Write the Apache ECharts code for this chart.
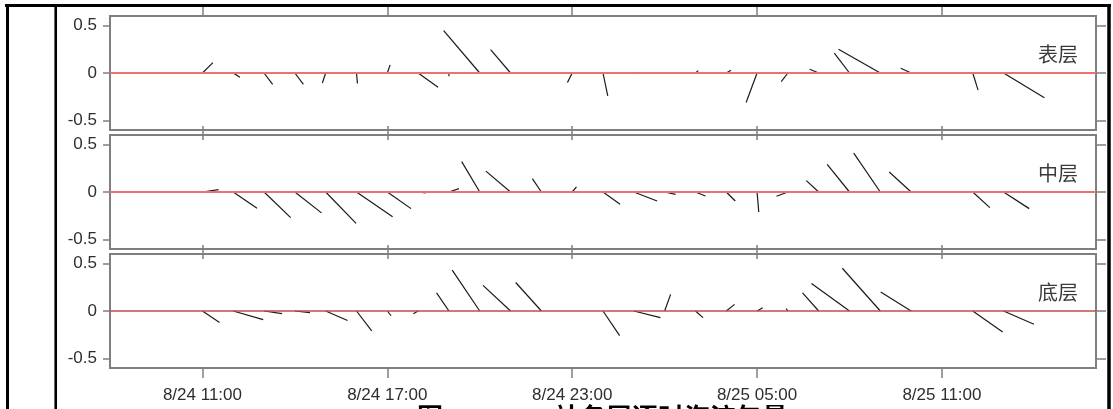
<!DOCTYPE html>
<html>
<head>
<meta charset="utf-8">
<style>
  html, body { margin: 0; padding: 0; background: #fff; }
  #chart { width: 1113px; height: 409px; }
</style>
<script src="https://cdn.jsdelivr.net/npm/echarts@6/dist/echarts.min.js"></script>
</head>
<body>
<div id="chart"></div>
<script>
// ---------------- DATA ----------------
// hour of each stick, counted from 8/24 00:00 (11 = 8/24 11:00, 37 = 8/25 13:00)
const hours = [11, 12, 13, 14, 15, 16, 17, 18, 19, 20, 21, 22, 23, 24, 25, 26, 27, 28, 29, 30, 31, 32, 33, 34, 35, 36, 37];

// 表层 (surface): east (u) and north (v) components, m/s
const uSurface = [0.11, 0.07, 0.09, 0.09, -0.035, 0.01, 0.03, 0.21, 0.0, -0.38, -0.21, -0.035, -0.05, 0.05, 0.01, 0.03, 0.03, 0.05, -0.115, -0.07, -0.095, -0.16, -0.44, -0.11, 0.0, 0.056, 0.43];
const vSurface = [0.11, -0.045, -0.12, -0.12, -0.105, -0.11, 0.085, -0.15, -0.035, 0.445, 0.245, 0.005, -0.1, -0.24, -0.01, -0.005, 0.025, 0.03, -0.31, -0.09, 0.04, 0.21, 0.25, 0.05, 0.0, -0.18, -0.26];

// 中层 (middle)
const uMiddle = [0.17, 0.25, 0.28, 0.28, 0.32, 0.38, 0.25, 0.08, 0.105, -0.19, -0.26, -0.095, 0.045, 0.18, 0.245, 0.115, 0.105, 0.095, 0.018, -0.12, -0.13, -0.235, -0.28, -0.23, 0.0, 0.18, 0.27];
const vMiddle = [0.025, -0.17, -0.27, -0.22, -0.33, -0.26, -0.175, -0.01, 0.035, 0.32, 0.22, 0.14, 0.053, -0.13, -0.095, -0.025, -0.042, -0.095, -0.21, -0.045, 0.12, 0.29, 0.41, 0.21, 0.0, -0.165, -0.175];

// 底层 (bottom)
const uBottom = [0.18, 0.315, 0.19, 0.16, 0.23, 0.16, 0.04, -0.05, -0.13, -0.29, -0.29, -0.27, 0.0, 0.175, 0.28, 0.063, 0.08, 0.088, 0.06, -0.018, -0.17, -0.4, -0.4, -0.32, 0.0, 0.315, 0.32];
const vBottom = [-0.12, -0.09, -0.028, -0.018, -0.1, -0.21, -0.05, -0.03, 0.19, 0.43, 0.27, 0.30, 0.0, -0.26, -0.07, 0.175, -0.07, 0.07, 0.035, 0.025, 0.19, 0.29, 0.45, 0.2, 0.0, -0.22, -0.14];

const layerNames = ['表层', '中层', '底层'];

// axis ticks / labels
const X_MIN = 8, X_MAX = 40;            // 8/24 08:00 .. 8/25 16:00
const Y_MIN = -0.6, Y_MAX = 0.6;
const xTickHours = [11, 17, 23, 29, 35];
const xTickLabels = ['8/24 11:00', '8/24 17:00', '8/24 23:00', '8/25 05:00', '8/25 11:00'];
const yTickValues = [-0.5, 0, 0.5];
const yTickLabels = ['-0.5', '0', '0.5'];
const captionFig = '图';
const captionText = '站各层逐时海流矢量';

// ---------------- LAYOUT ----------------
const PANEL_LEFT = 110, PANEL_WIDTH = 986, PANEL_H = 114;
const PANEL_TOPS = [16, 135, 254];
const AXIS_GRAY = '#7f7f7f';
const FONT = '"Liberation Sans", Arial, sans-serif';
const CJK = '"Noto Sans CJK SC", sans-serif';

const panels = [
  { u: uSurface, v: vSurface, red: '#f07070', redW: 2 },
  { u: uMiddle, v: vMiddle, red: '#f07070', redW: 2 },
  { u: uBottom, v: vBottom, red: '#c84a4a', redW: 1.3 }
];

const grids = [], xAxes = [], yAxes = [], series = [], graphics = [];

panels.forEach((p, i) => {
  grids.push({
    left: PANEL_LEFT, width: PANEL_WIDTH, top: PANEL_TOPS[i], height: PANEL_H,
    show: true, borderColor: AXIS_GRAY, borderWidth: 2, backgroundColor: 'transparent'
  });
  const xBase = {
    gridIndex: i, type: 'value', min: X_MIN, max: X_MAX,
    axisLine: { show: false, onZero: false }, splitLine: { show: false }
  };
  xAxes.push(Object.assign({}, xBase, {
    position: 'bottom',
    axisTick: { show: true, customValues: xTickHours, length: 10, lineStyle: { color: AXIS_GRAY, width: 1.5 } },
    axisLabel: {
      show: i === 2, customValues: xTickHours, margin: 19, fontSize: 17, color: '#2e2e2e', fontFamily: FONT,
      formatter: (val) => xTickLabels[xTickHours.indexOf(Math.round(val))]
    }
  }));
  xAxes.push(Object.assign({}, xBase, {
    position: 'top',
    axisTick: { show: true, customValues: xTickHours, length: 9, lineStyle: { color: AXIS_GRAY, width: 1.5 } },
    axisLabel: { show: false }
  }));
  const yBase = {
    gridIndex: i, type: 'value', min: Y_MIN, max: Y_MAX,
    axisLine: { show: false, onZero: false }, splitLine: { show: false }
  };
  yAxes.push(Object.assign({}, yBase, {
    position: 'left',
    axisTick: { show: true, customValues: yTickValues, length: 7, lineStyle: { color: AXIS_GRAY, width: 1.5 } },
    axisLabel: {
      show: true, customValues: yTickValues, margin: 13, fontSize: 17, color: '#2e2e2e', fontFamily: FONT,
      formatter: (val) => yTickLabels[yTickValues.indexOf(Math.round(val * 10) / 10)]
    }
  }));
  yAxes.push(Object.assign({}, yBase, {
    position: 'right',
    axisTick: { show: true, customValues: yTickValues, length: 10, lineStyle: { color: AXIS_GRAY, width: 1.5 } },
    axisLabel: { show: false }
  }));

  // stick (vector) series: origin at (t, 0); tip offset by u horizontally and v vertically,
  // both using the same pixels-per-unit of the y axis so directions are preserved
  series.push({
    type: 'custom',
    xAxisIndex: i * 2, yAxisIndex: i * 2,
    z: 2,
    silent: true,
    encode: { x: 0, y: 2 },
    data: hours.map((h, k) => [h, p.u[k], p.v[k]]),
    renderItem: (params, api) => {
      const t = api.value(0), u = api.value(1), v = api.value(2);
      const o = api.coord([t, 0]);
      const tip = api.coord([t, v]);
      const unit = api.size([0, 1])[1];
      return {
        type: 'line',
        shape: { x1: o[0], y1: o[1], x2: o[0] + u * unit, y2: tip[1] },
        style: { stroke: '#1a1a1a', lineWidth: 1.2 }
      };
    }
  });
  // red zero line
  series.push({
    type: 'line',
    xAxisIndex: i * 2, yAxisIndex: i * 2,
    z: 3, silent: true, showSymbol: false, symbol: 'none',
    data: [[X_MIN, 0], [X_MAX, 0]],
    lineStyle: { color: p.red, width: p.redW }
  });

  // layer label
  const zeroY = PANEL_TOPS[i] + PANEL_H * (Y_MAX / (Y_MAX - Y_MIN));
  graphics.push({
    type: 'text', right: 1113 - 1078, top: zeroY - 29,
    style: { text: layerNames[i], font: '20px ' + CJK, fill: '#3a3a3a' }
  });
});

// outer table-like frame
const frame = [
  { x1: 5, y1: 5.5, x2: 1111, y2: 5.5, w: 3 },
  { x1: 7.5, y1: 4, x2: 7.5, y2: 409, w: 3 },
  { x1: 55.7, y1: 4, x2: 55.7, y2: 409, w: 2.6 },
  { x1: 1109, y1: 4, x2: 1109, y2: 409, w: 3.5 }
];
frame.forEach(f => graphics.push({
  type: 'line', shape: { x1: f.x1, y1: f.y1, x2: f.x2, y2: f.y2 },
  style: { stroke: '#000', lineWidth: f.w }, z: 10
}));

// caption (cut off by the bottom edge)
graphics.push({
  type: 'text', left: 417, top: 404,
  style: { text: captionFig, font: 'bold 26px ' + CJK, fill: '#000' }
});
graphics.push({
  type: 'text', left: 554, top: 404,
  style: { text: captionText, font: 'bold 26px ' + CJK, fill: '#000' }
});

const chart = echarts.init(document.getElementById('chart'), null, { renderer: 'canvas' });
chart.setOption({
  animation: false,
  backgroundColor: '#fff',
  textStyle: { fontFamily: FONT },
  grid: grids,
  xAxis: xAxes,
  yAxis: yAxes,
  series: series,
  graphic: graphics
});
</script>
</body>
</html>
